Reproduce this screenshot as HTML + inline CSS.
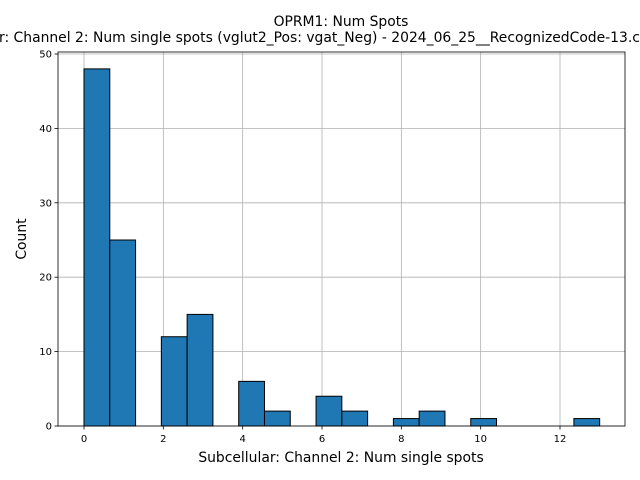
<!DOCTYPE html>
<html><head><meta charset="utf-8"><style>body{margin:0;background:#fff}svg{display:block;font-family:"DejaVu Sans","Liberation Sans",sans-serif}</style></head>
<body>
<svg id="c" width="640" height="480" viewBox="0 0 640 480">
<rect width="640" height="480" fill="#fff"/>
<text x="341" y="26" text-anchor="middle" font-size="13.9">OPRM1: Num Spots</text>
<text x="-1" y="42" text-anchor="start" font-size="13.9">r: Channel 2: Num single spots (vglut2_Pos: vgat_Neg) - 2024_06_25__RecognizedCode-13.czi</text>
<g id="grid"></g><g id="bars"></g><g id="axes"></g>
<text x="341" y="462" text-anchor="middle" font-size="13.9">Subcellular: Channel 2: Num single spots</text>
<text x="26" y="239" text-anchor="middle" font-size="13.9" transform="rotate(-90 26 239)">Count</text>
</svg>
<script>
const binEdgesStart = 0;
const binEdgesEnd = 13;
const counts = [48,25,0,12,15,0,6,2,0,4,2,0,1,2,0,1,0,0,0,1];
const xTicks = [0,2,4,6,8,10,12];
const yTicks = [0,10,20,30,40,50];
const NS="http://www.w3.org/2000/svg";
const L=58,R=625,T=52,B=426;
const xs=v=>84+v*(560-84)/12;
const ys=v=>B-v*(B-54)/50;
function mk(t,a,p){const e=document.createElementNS(NS,t);for(const k in a)e.setAttribute(k,a[k]);p.appendChild(e);return e;}
const g=document.getElementById('grid'),b=document.getElementById('bars'),ax=document.getElementById('axes');
xTicks.forEach(v=>{
 const l=mk('line',{x1:xs(v),x2:xs(v),y1:T,y2:B,stroke:'#b0b0b0','stroke-width':0.8},g);
 
 
 mk('line',{x1:xs(v),x2:xs(v),y1:B,y2:B+3.5,stroke:'#000','stroke-width':0.8},ax);
 const t=mk('text',{x:xs(v),y:B+16,'text-anchor':'middle','font-size':10},ax);t.textContent=v;
 
 
});
yTicks.forEach(v=>{
 const l=mk('line',{x1:L,x2:R,y1:ys(v),y2:ys(v),stroke:'#b0b0b0','stroke-width':0.8},g);
 
 
 mk('line',{x1:L-3.5,x2:L,y1:ys(v),y2:ys(v),stroke:'#000','stroke-width':0.8},ax);
 const t=mk('text',{x:L-6,y:ys(v)+3.5,'text-anchor':'end','font-size':10},ax);t.textContent=v;
 
 
});
const w=(binEdgesEnd-binEdgesStart)/counts.length;
counts.forEach((c,i)=>{
 if(!c)return;
 const x0=xs(binEdgesStart+i*w),x1=xs(binEdgesStart+(i+1)*w);
 const r=mk('rect',{x:x0,y:ys(c),width:x1-x0,height:B-ys(c),fill:'#1f77b4',stroke:'#000','stroke-width':1},b);
 
 
});
const f=mk('rect',{x:L,y:T,width:R-L,height:B-T,fill:'none',stroke:'#000','stroke-width':0.8},ax);


</script>
</body></html>
